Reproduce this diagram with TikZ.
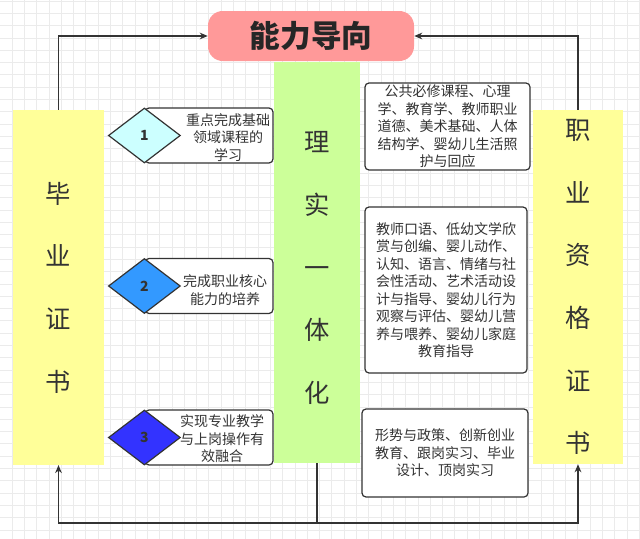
\documentclass[tikz,border=0pt]{standalone}
\usepackage{fontspec}
\setmainfont{Noto Sans CJK SC}
\usetikzlibrary{shapes.geometric,arrows.meta}
\definecolor{pinkc}{HTML}{FF9999}
\definecolor{greenc}{HTML}{CCFF99}
\definecolor{yellowc}{HTML}{FFFF99}
\definecolor{dia1}{HTML}{CCFFFF}
\definecolor{dia2}{HTML}{3399FF}
\definecolor{dia3}{HTML}{3333FF}
\definecolor{ink}{HTML}{333333}
\definecolor{gridc}{HTML}{EBEBEB}
\tikzset{
  bar/.style={fill=yellowc, minimum width=68pt, minimum height=266pt, inner sep=0pt, align=center, text=ink, font=\fontsize{19}{47}\selectfont},
  course/.style={draw=ink, line width=0.9pt, fill=white, rounded corners=3pt, inner sep=0pt, align=center, text=ink, font=\fontsize{10.5}{13.1}\selectfont},
  stepbox/.style={draw=ink, line width=0.9pt, fill=white, rounded corners=3pt, minimum width=96pt, minimum height=41.25pt},
  steptext/.style={align=center, text=ink, inner sep=0pt, font=\fontsize{10.5}{13.1}\selectfont},
  dia/.style={diamond, draw=ink, line width=0.9pt, minimum width=54pt, minimum height=41.25pt, inner sep=0pt, font=\fontsize{10.5}{12}\selectfont\bfseries, text=ink},
  link/.style={draw=ink, line width=1pt},
  arr/.style={link, -{Stealth[length=6pt,width=5pt]}}
}
\begin{document}
\begin{tikzpicture}[x=0.75pt, y=-0.75pt]
\useasboundingbox (0,0) rectangle (640,539);
\fill[white] (0,0) rectangle (640,539);
% grid
\foreach \gx in {12,24.3,...,640} \draw[gridc, line width=0.6pt] (\gx,0) -- (\gx,539);
\foreach \gy in {1,13.3,...,539} \draw[gridc, line width=0.6pt] (0,\gy) -- (640,\gy);

\node[fill=pinkc, rounded corners=11pt, minimum width=154.5pt, minimum height=37.5pt, inner sep=0pt, font=\fontsize{23}{26}\selectfont\bfseries, text=black!85] (title) at (311,36) {能力导向};

\node[bar] (grad) at (58.5,287.5) {毕\\业\\证\\书};
\node[bar, minimum width=67.5pt, minimum height=265.5pt] (cert) at (578,287) {职\\业\\资\\格\\证\\书};
\node[fill=greenc, minimum width=64.5pt, minimum height=300.75pt, inner sep=0pt] (core) at (317,262.5) {};
\node[align=center, text=ink, inner sep=0pt, font=\fontsize{19}{46.9}\selectfont] (coretext) at (317,268) {理\\实\\一\\体\\化};

% courses
\node[course, minimum width=123.75pt, minimum height=65.25pt] (ca) at (447.5,126.5) {公共必修课程、心理\\学、教育学、教师职业\\道德、美术基础、人体\\结构学、婴幼儿生活照\\护与回应};
\node[course, minimum width=121.5pt, minimum height=124.5pt] (cb) at (446,290) {教师口语、低幼文学欣\\赏与创编、婴儿动作、\\认知、语言、情绪与社\\会性活动、艺术活动设\\计与指导、婴幼儿行为\\观察与评估、婴幼儿营\\养与喂养、婴幼儿家庭\\教育指导};
\node[course, minimum width=124.5pt, minimum height=66pt] (cc) at (445,453) {形势与政策、创新创业\\教育、跟岗实习、毕业\\设计、顶岗实习};

% steps
\node[stepbox] (s1) at (209,135.5) {};
\node[steptext] (t1) at (228,137.5) {重点完成基础\\领域课程的\\学习};
\node[dia, fill=dia1] (d1) at (s1.west) {1};
\node[stepbox] (s2) at (209,286) {};
\node[steptext] (t2) at (225,290) {完成职业核心\\能力的培养};
\node[dia, fill=dia2] (d2) at (s2.west) {2};
\node[stepbox] (s3) at (209,437.5) {};
\node[steptext] (t3) at (222,439) {实现专业教学\\与上岗操作有\\效融合};
\node[dia, fill=dia3] (d3) at (s3.west) {3};

% connectors
\draw[arr] (grad.north) |- (title.west);
\draw[arr] (cert.north) |- (title.east);
\coordinate (bot) at (317,523);
\draw[link] (core.south) -- (bot);
\draw[arr] (bot) -| (grad.south);
\draw[arr] (bot) -| (cert.south);
\end{tikzpicture}
\end{document}
